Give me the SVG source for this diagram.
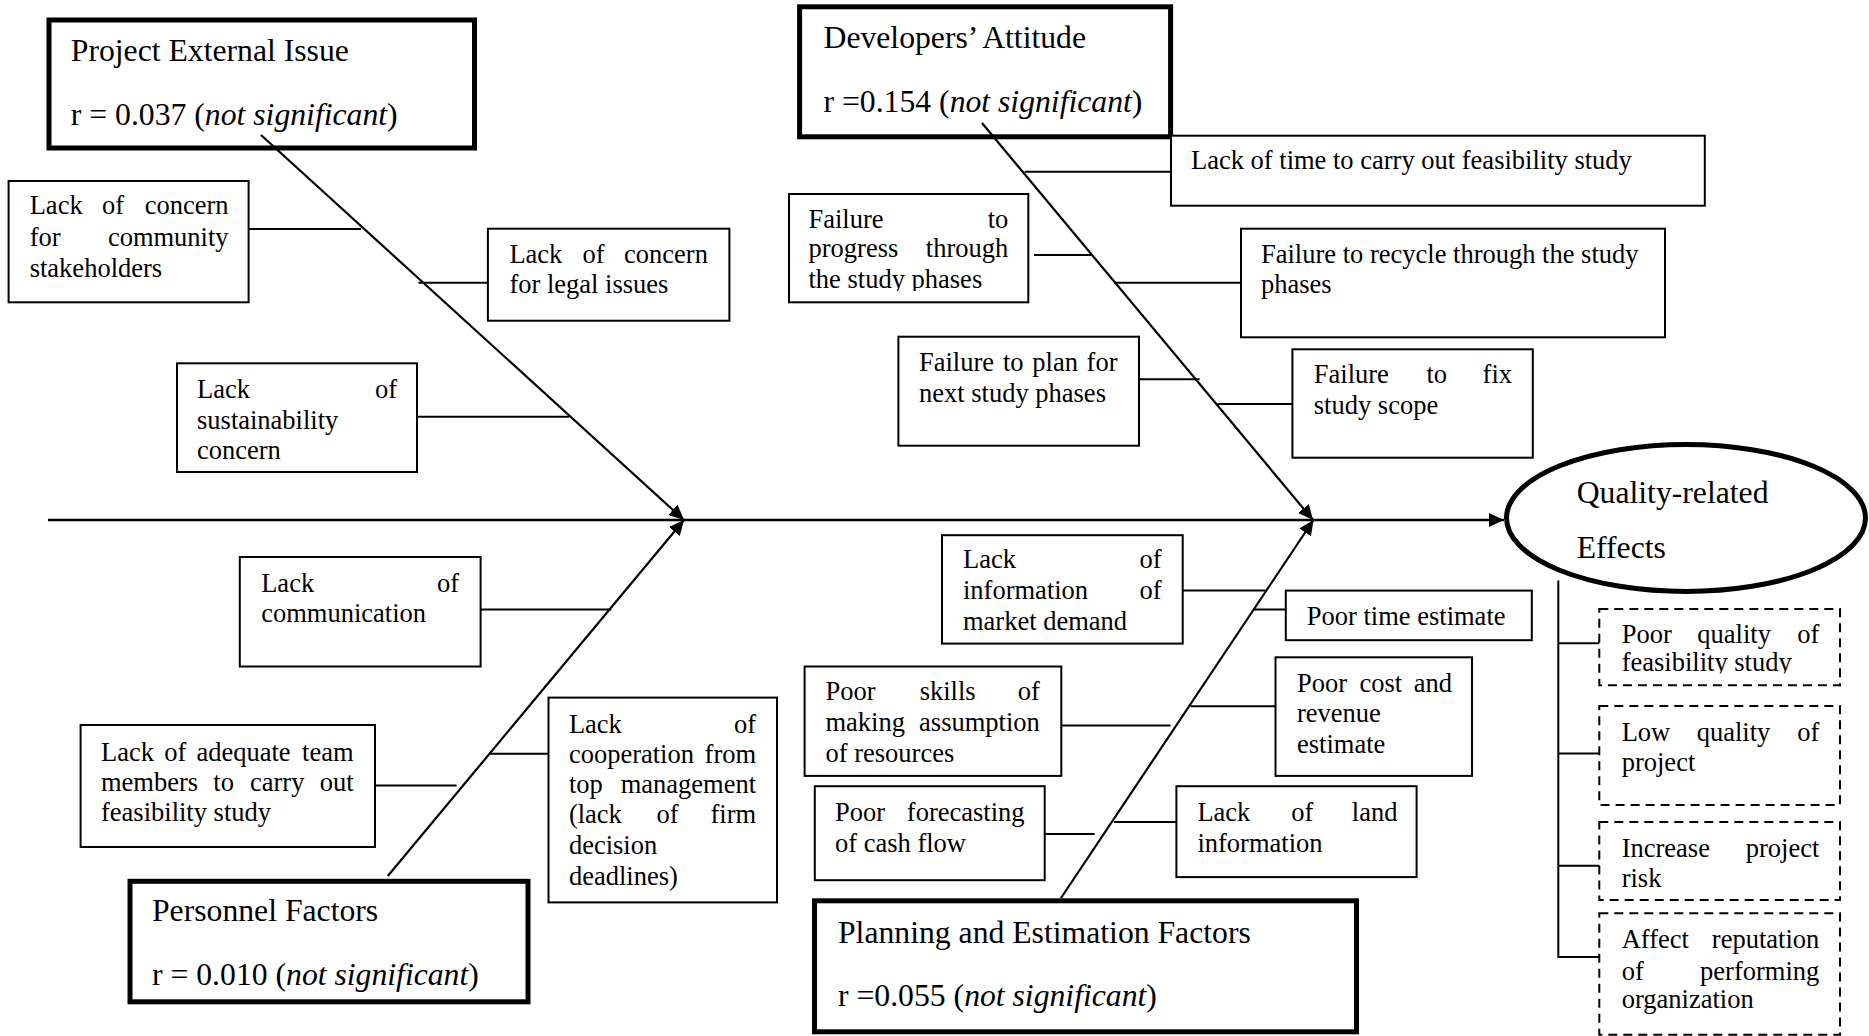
<svg xmlns="http://www.w3.org/2000/svg" width="1869" height="1036" viewBox="0 0 1869 1036">
  <style>
    .bg { fill: #ffffff; }
    .box { fill: #ffffff; stroke: #000000; stroke-width: 2; }
    .head { fill: #ffffff; stroke: #000000; stroke-width: 5; }
    .effect { fill: #ffffff; stroke: #000000; stroke-width: 2; stroke-dasharray: 9 6; }
    .ell { fill: #ffffff; stroke: #000000; stroke-width: 5; }
    .t { font-family: "Liberation Serif", "Times New Roman", serif; font-size: 26.5px; fill: #000000; }
    .h { font-family: "Liberation Serif", "Times New Roman", serif; font-size: 31.7px; fill: #000000; }
    .it { font-style: italic; }
    .e { text-anchor: end; }
    .ln { stroke: #000000; stroke-width: 2; fill: none; }
    .bone { stroke: #000000; stroke-width: 2.2; fill: none; marker-end: url(#arrow); }
    .spine { stroke: #000000; stroke-width: 2.6; fill: none; marker-end: url(#arrow); }
  </style>
  <defs>
    <marker id="arrow" markerUnits="userSpaceOnUse" markerWidth="16" markerHeight="16" refX="15" refY="8" orient="auto">
      <path d="M0,1 L15,8 L0,15 z" fill="#000000"/>
    </marker>
    <clipPath id="clipProgress"><rect x="789" y="194" width="240" height="97"/></clipPath>
    <clipPath id="clipFeas"><rect x="1599" y="609" width="241" height="64.5"/></clipPath>
  </defs>

  <rect class="bg" x="0" y="0" width="1869" height="1036"/>

  <!-- category heads -->
  <g id="head-external">
    <rect class="head" x="49" y="20" width="425.5" height="128"/>
    <text class="h" x="70.8" y="61">Project External Issue</text>
    <text class="h" x="70.8" y="125">r = 0.037 (<tspan class="it">not significant</tspan>)</text>
  </g>
  <g id="head-developers">
    <rect class="head" x="799.6" y="6.8" width="371" height="130"/>
    <text class="h" x="823.5" y="48.3">Developers’ Attitude</text>
    <text class="h" x="823.5" y="112">r =0.154 (<tspan class="it">not significant</tspan>)</text>
  </g>
  <g id="head-personnel">
    <rect class="head" x="130" y="881.3" width="398" height="120.5"/>
    <text class="h" x="152" y="921.2">Personnel Factors</text>
    <text class="h" x="152" y="984.8">r = 0.010 (<tspan class="it">not significant</tspan>)</text>
  </g>
  <g id="head-planning">
    <rect class="head" x="814.5" y="900.8" width="542" height="131"/>
    <text class="h" x="838" y="942.7">Planning and Estimation Factors</text>
    <text class="h" x="838" y="1006">r =0.055 (<tspan class="it">not significant</tspan>)</text>
  </g>

  <!-- causes: project external issue -->
  <g id="cause-community">
    <rect class="box" x="8.6" y="181" width="240" height="121.3"/>
    <text class="t" y="214.3"><tspan x="29.7">Lack</tspan><tspan x="101.9">of</tspan><tspan class="e" x="228.6">concern</tspan></text>
    <text class="t" y="245.7"><tspan x="29.7">for</tspan><tspan class="e" x="228.6">community</tspan></text>
    <text class="t" x="29.7" y="276.7">stakeholders</text>
  </g>
  <g id="cause-legal">
    <rect class="box" x="487.9" y="228.7" width="241.5" height="92"/>
    <text class="t" y="263.3"><tspan x="509.4">Lack</tspan><tspan x="582.6">of</tspan><tspan class="e" x="707.9">concern</tspan></text>
    <text class="t" x="509.4" y="293.3">for legal issues</text>
  </g>
  <g id="cause-sustainability">
    <rect class="box" x="177" y="363.3" width="240" height="108.7"/>
    <text class="t" y="398.3"><tspan x="197">Lack</tspan><tspan class="e" x="397">of</tspan></text>
    <text class="t" x="197" y="429">sustainability</text>
    <text class="t" x="197" y="459.3">concern</text>
  </g>

  <!-- causes: developers' attitude -->
  <g id="cause-time">
    <rect class="box" x="1171" y="135.7" width="533.8" height="70"/>
    <text class="t" x="1191" y="169.3">Lack of time to carry out feasibility study</text>
  </g>
  <g id="cause-progress">
    <rect class="box" x="789" y="194" width="239.3" height="108.3"/>
    <text class="t" y="227.7"><tspan x="808.5">Failure</tspan><tspan class="e" x="1008.3">to</tspan></text>
    <text class="t" y="257.3"><tspan x="808.5">progress</tspan><tspan class="e" x="1008.3">through</tspan></text>
    <text class="t" x="808.5" y="288" clip-path="url(#clipProgress)">the study phases</text>
  </g>
  <g id="cause-recycle">
    <rect class="box" x="1241" y="228.7" width="424" height="108.6"/>
    <text class="t" x="1261" y="263.3">Failure to recycle through the study</text>
    <text class="t" x="1261" y="292.7">phases</text>
  </g>
  <g id="cause-plan">
    <rect class="box" x="898.4" y="336.7" width="240.6" height="109"/>
    <text class="t" y="371"><tspan x="919">Failure</tspan><tspan x="1002.9">to</tspan><tspan x="1032.3">plan</tspan><tspan class="e" x="1117.5">for</tspan></text>
    <text class="t" x="919" y="401.7">next study phases</text>
  </g>
  <g id="cause-scope">
    <rect class="box" x="1292.4" y="349.3" width="240.4" height="108.4"/>
    <text class="t" y="383.3"><tspan x="1313.8">Failure</tspan><tspan x="1426.5">to</tspan><tspan class="e" x="1512">fix</tspan></text>
    <text class="t" x="1313.8" y="414">study scope</text>
  </g>

  <!-- causes: personnel factors -->
  <g id="cause-communication">
    <rect class="box" x="239.8" y="557" width="240.8" height="109.5"/>
    <text class="t" y="591.6"><tspan x="261.2">Lack</tspan><tspan class="e" x="459.2">of</tspan></text>
    <text class="t" x="261.2" y="622.4">communication</text>
  </g>
  <g id="cause-team">
    <rect class="box" x="80.6" y="725" width="294.4" height="122"/>
    <text class="t" y="760.5"><tspan x="101">Lack</tspan><tspan x="164.3">of</tspan><tspan x="196.4">adequate</tspan><tspan class="e" x="353.6">team</tspan></text>
    <text class="t" y="790.6"><tspan x="101">members</tspan><tspan x="213.3">to</tspan><tspan x="250">carry</tspan><tspan class="e" x="353.6">out</tspan></text>
    <text class="t" x="101" y="821.4">feasibility study</text>
  </g>
  <g id="cause-cooperation">
    <rect class="box" x="548.5" y="697.6" width="228.5" height="204.8"/>
    <text class="t" y="732.5"><tspan x="568.9">Lack</tspan><tspan class="e" x="756.1">of</tspan></text>
    <text class="t" y="763.2"><tspan x="568.9">cooperation</tspan><tspan class="e" x="756.1">from</tspan></text>
    <text class="t" y="793.3"><tspan x="568.9">top</tspan><tspan class="e" x="756.1">management</tspan></text>
    <text class="t" y="823"><tspan x="568.9">(lack</tspan><tspan x="656.6">of</tspan><tspan class="e" x="756.1">firm</tspan></text>
    <text class="t" x="568.9" y="853.8">decision</text>
    <text class="t" x="568.9" y="884.6">deadlines)</text>
  </g>

  <!-- causes: planning and estimation -->
  <g id="cause-market">
    <rect class="box" x="942" y="535.2" width="240.7" height="108.4"/>
    <text class="t" y="568.4"><tspan x="963">Lack</tspan><tspan class="e" x="1161.7">of</tspan></text>
    <text class="t" y="599.1"><tspan x="963">information</tspan><tspan class="e" x="1161.7">of</tspan></text>
    <text class="t" x="963" y="629.9">market demand</text>
  </g>
  <g id="cause-time-estimate">
    <rect class="box" x="1285.8" y="590.6" width="246" height="49.6"/>
    <text class="t" x="1306.8" y="624.8">Poor time estimate</text>
  </g>
  <g id="cause-skills">
    <rect class="box" x="804.6" y="666.5" width="256.7" height="109.4"/>
    <text class="t" y="700"><tspan x="825.5">Poor</tspan><tspan x="919.7">skills</tspan><tspan class="e" x="1039.8">of</tspan></text>
    <text class="t" y="730.8"><tspan x="825.5">making</tspan><tspan class="e" x="1039.8">assumption</tspan></text>
    <text class="t" x="825.5" y="761.5">of resources</text>
  </g>
  <g id="cause-cost">
    <rect class="box" x="1275.5" y="657.3" width="196.5" height="118.6"/>
    <text class="t" y="691.5"><tspan x="1297">Poor</tspan><tspan x="1359.5">cost</tspan><tspan class="e" x="1451.9">and</tspan></text>
    <text class="t" x="1297" y="722.2">revenue</text>
    <text class="t" x="1297" y="753">estimate</text>
  </g>
  <g id="cause-cashflow">
    <rect class="box" x="814.8" y="786.2" width="229.9" height="94"/>
    <text class="t" y="821.4"><tspan x="835">Poor</tspan><tspan class="e" x="1024.6">forecasting</tspan></text>
    <text class="t" x="835" y="852.1">of cash flow</text>
  </g>
  <g id="cause-land">
    <rect class="box" x="1176.4" y="786.2" width="240.2" height="90.9"/>
    <text class="t" y="821.4"><tspan x="1197.4">Lack</tspan><tspan x="1291.2">of</tspan><tspan class="e" x="1397.4">land</tspan></text>
    <text class="t" x="1197.4" y="852.1">information</text>
  </g>

  <!-- effect head -->
  <g id="effect-head">
    <ellipse class="ell" cx="1686" cy="518" rx="179.5" ry="73.5"/>
    <text class="h" x="1576.7" y="503">Quality-related</text>
    <text class="h" x="1576.7" y="558">Effects</text>
  </g>

  <!-- effects -->
  <g id="effect-feasibility">
    <rect class="effect" x="1599.3" y="609" width="240.7" height="76.2"/>
    <text class="t" y="642.5"><tspan x="1621.7">Poor</tspan><tspan x="1697.3">quality</tspan><tspan class="e" x="1819.3">of</tspan></text>
    <text class="t" x="1621.7" y="671" clip-path="url(#clipFeas)">feasibility study</text>
  </g>
  <g id="effect-project">
    <rect class="effect" x="1599.3" y="706" width="240.7" height="98.9"/>
    <text class="t" y="741"><tspan x="1621.7">Low</tspan><tspan x="1696.7">quality</tspan><tspan class="e" x="1819.3">of</tspan></text>
    <text class="t" x="1621.7" y="771">project</text>
  </g>
  <g id="effect-risk">
    <rect class="effect" x="1599.3" y="822" width="240.7" height="78"/>
    <text class="t" y="856.8"><tspan x="1621.7">Increase</tspan><tspan class="e" x="1819.3">project</tspan></text>
    <text class="t" x="1621.7" y="887">risk</text>
  </g>
  <g id="effect-reputation">
    <rect class="effect" x="1599.3" y="913.2" width="240.7" height="121.6"/>
    <text class="t" y="948.3"><tspan x="1621.7">Affect</tspan><tspan class="e" x="1819.3">reputation</tspan></text>
    <text class="t" y="979.7"><tspan x="1621.7">of</tspan><tspan class="e" x="1819.3">performing</tspan></text>
    <text class="t" x="1621.7" y="1008.2">organization</text>
  </g>

  <!-- connectors -->
  <g id="connectors">
    <line class="spine" x1="48" y1="520" x2="1504" y2="520"/>
    <line class="bone" x1="261" y1="135" x2="684" y2="520"/>
    <line class="bone" x1="982" y1="123" x2="1313" y2="520"/>
    <line class="bone" x1="387.8" y1="876" x2="684" y2="520"/>
    <line class="bone" x1="1061" y1="898" x2="1313.5" y2="520"/>

    <line class="ln" x1="248.7" y1="229" x2="361" y2="229"/>
    <line class="ln" x1="418.5" y1="282.7" x2="487.9" y2="282.7"/>
    <line class="ln" x1="417" y1="416.7" x2="569.2" y2="416.7"/>

    <line class="ln" x1="1024.7" y1="171.7" x2="1171" y2="171.7"/>
    <line class="ln" x1="1034" y1="255" x2="1092.5" y2="255"/>
    <line class="ln" x1="1114" y1="282.7" x2="1241" y2="282.7"/>
    <line class="ln" x1="1139" y1="379.3" x2="1199.6" y2="379.3"/>
    <line class="ln" x1="1217.4" y1="404" x2="1292.4" y2="404"/>

    <line class="ln" x1="480.6" y1="609.4" x2="611.2" y2="609.4"/>
    <line class="ln" x1="375" y1="785.5" x2="456.6" y2="785.5"/>
    <line class="ln" x1="489.8" y1="753.7" x2="548.5" y2="753.7"/>

    <line class="ln" x1="1182.7" y1="590.6" x2="1265.3" y2="590.6"/>
    <line class="ln" x1="1253.2" y1="609.4" x2="1285.8" y2="609.4"/>
    <line class="ln" x1="1190.7" y1="706.2" x2="1275.5" y2="706.2"/>
    <line class="ln" x1="1061.3" y1="725.6" x2="1170.6" y2="725.6"/>
    <line class="ln" x1="1044.7" y1="834" x2="1094.7" y2="834"/>
    <line class="ln" x1="1113.9" y1="822" x2="1176.4" y2="822"/>

    <path class="ln" d="M1558.3,580.6 V957 H1599.3 M1558.3,643.3 H1599.3 M1558.3,753.6 H1599.3 M1558.3,865.7 H1599.3"/>
  </g>
</svg>
